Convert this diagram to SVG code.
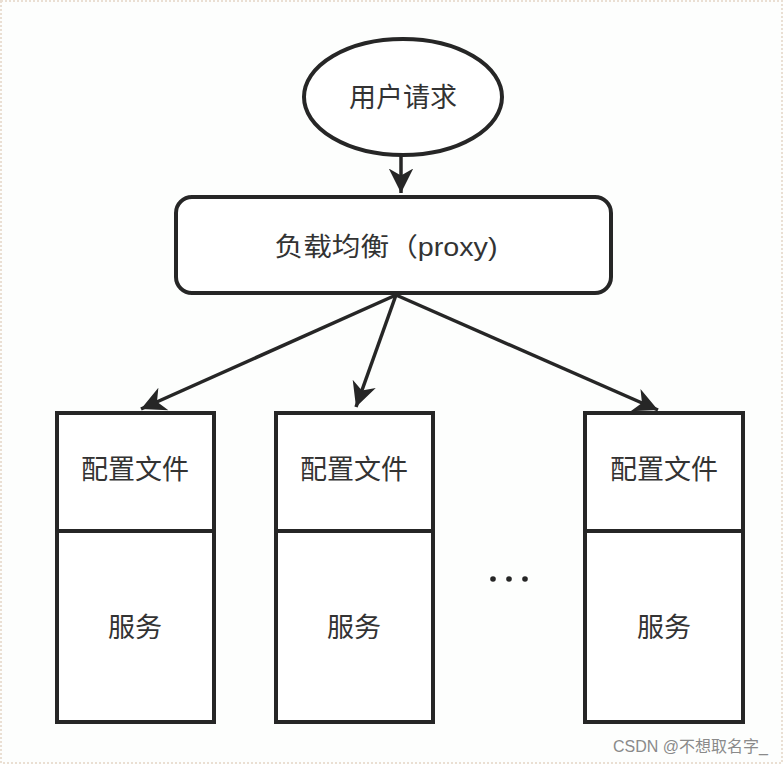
<svg xmlns="http://www.w3.org/2000/svg" width="783" height="764" viewBox="0 0 783 764">
<style>
.shape{fill:#fff;stroke:#262626;stroke-width:4}
.line{fill:none;stroke:#262626;stroke-width:3.5}
.t{font-family:"Liberation Sans","Noto Sans CJK SC",sans-serif;fill:#333;text-anchor:middle;dominant-baseline:central}
.big{font-size:27px}
.mid{font-size:26px}
.dot{fill:#262626}
</style>
<defs>
<marker id="arr" markerWidth="8" markerHeight="8" refX="7" refY="4" orient="auto" markerUnits="strokeWidth" viewBox="0 0 8 8">
<path d="M0,0.5 L7,4 L0,7.5 L2,4 Z" fill="#262626"/>
</marker>
</defs>
<rect x="0" y="0" width="783" height="764" fill="#fdfefd"/>
<rect x="1" y="1" width="781" height="762" fill="none" stroke="#eadfd3" stroke-width="2" stroke-dasharray="2 2"/>
<g id="connectors">
<line class="line" x1="401" y1="156" x2="401" y2="193" marker-end="url(#arr)"/>
<line class="line" x1="396" y1="295" x2="141" y2="409" marker-end="url(#arr)"/>
<line class="line" x1="396" y1="295" x2="356" y2="407" marker-end="url(#arr)"/>
<line class="line" x1="396" y1="295" x2="658" y2="410" marker-end="url(#arr)"/>
</g>
<g id="user-request">
<ellipse class="shape" cx="403" cy="97" rx="99" ry="58"/>
<text class="t big" x="403" y="98">用户请求</text>
</g>
<g id="load-balancer">
<rect class="shape" x="176" y="197" width="435" height="96" rx="16"/>
<text class="t mid" x="386" y="247" textLength="223" lengthAdjust="spacingAndGlyphs">负载均衡（proxy)</text>
</g>
<g id="server-1">
<rect class="shape" x="57" y="413" width="157" height="309"/>
<line class="shape" x1="57" y1="531" x2="214" y2="531"/>
<text class="t big" x="135" y="470">配置文件</text>
<text class="t big" x="135" y="628">服务</text>
</g>
<g id="server-2">
<rect class="shape" x="276" y="413" width="157" height="309"/>
<line class="shape" x1="276" y1="531" x2="433" y2="531"/>
<text class="t big" x="354" y="470">配置文件</text>
<text class="t big" x="354" y="628">服务</text>
</g>
<g id="server-3">
<rect class="shape" x="585" y="413" width="158" height="309"/>
<line class="shape" x1="585" y1="531" x2="743" y2="531"/>
<text class="t big" x="664" y="470">配置文件</text>
<text class="t big" x="664" y="628">服务</text>
</g>
<g id="ellipsis">
<circle class="dot" cx="493" cy="579" r="2.8"/>
<circle class="dot" cx="509" cy="579" r="2.8"/>
<circle class="dot" cx="525" cy="579" r="2.8"/>
</g>
<text x="768" y="746" font-family="Liberation Sans,'Noto Sans CJK SC',sans-serif" font-size="16" fill="#8a8a8a" text-anchor="end" dominant-baseline="central">CSDN @不想取名字_</text>
</svg>
